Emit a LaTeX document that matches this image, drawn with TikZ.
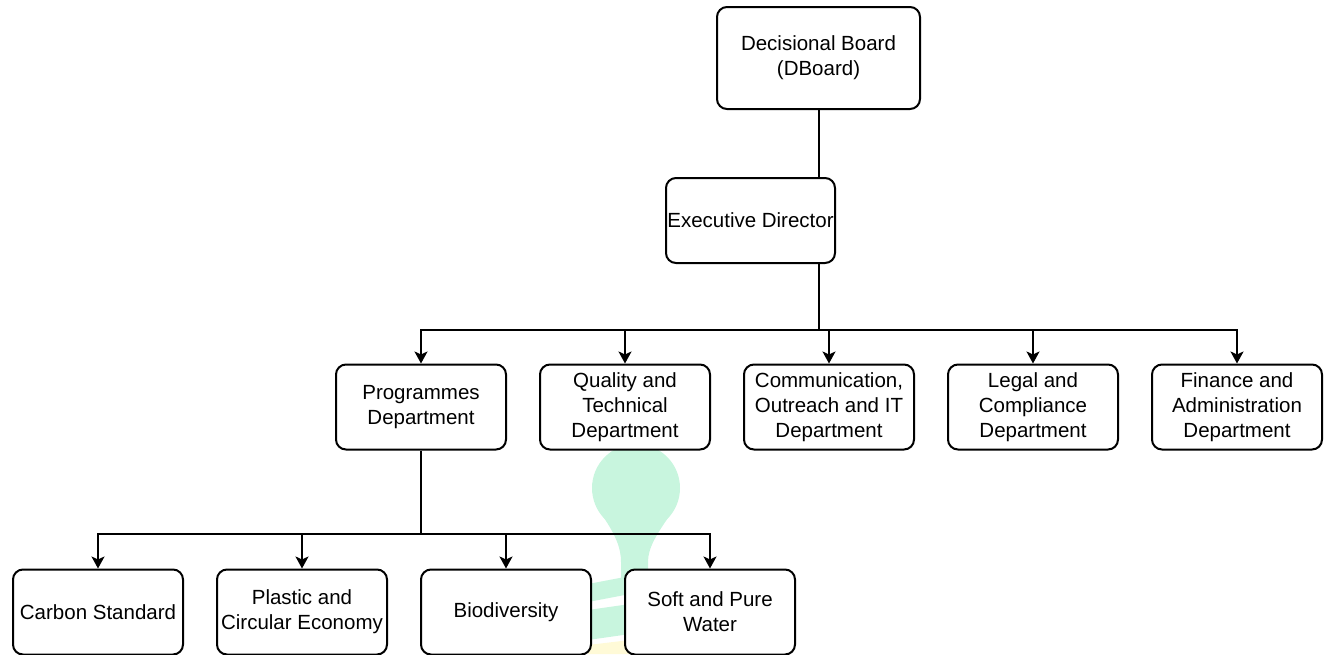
\documentclass[tikz,border=0pt]{standalone}
\usepackage{fontspec}
\setmainfont{Liberation Sans}
\usetikzlibrary{arrows.meta}
\definecolor{wmgreen}{RGB}{200,245,222}
\definecolor{wmyellow}{RGB}{255,250,215}

\begin{document}
\begin{tikzpicture}[x=1pt,y=-1pt,>={Stealth[length=12pt,width=13pt,inset=3pt]},node distance=204pt,
		line width=2pt, wm/.style={fill=wmgreen},
		box/.style={draw,fill=white,rounded corners=10pt,minimum width=170pt,minimum height=85pt,inner sep=1pt,align=center,font=\fontsize{20.5}{25}\selectfont}]
		\useasboundingbox (0,0) rectangle (1327,654);
		% 背景水印
		\fill[wm] (636,488) circle (44);
		\fill[wm] (600,512) .. controls (616,535) and (621,548) .. (621,562) -- (621,580) -- (648,580) -- (648,562) .. controls (648,548) and (656,535) .. (672,512) -- cycle;
		\fill[wm] (588,584) -- (630,576) -- (630,594) -- (588,602) -- cycle;
		\fill[wm] (588,610) -- (630,604) -- (630,634) -- (588,640) -- cycle;
		\fill[wmyellow] (588,645) -- (630,640) -- (630,654) -- (588,654) -- cycle;
		% 领导
		\node[box,minimum width=203pt,minimum height=102pt] (dboard) at (818.5,58) {Decisional Board\\(DBoard)};
		\node[box,minimum width=169pt] (exec) at (750.5,220.5) {Executive Director};
		% 部门
		\node[box] (prog) at (421,407) {Programmes\\Department};
		\node[box] (qual) [right of=prog] {Quality and\\Technical\\Department};
		\node[box] (comm) [right of=qual] {Communication,\\Outreach and IT\\Department};
		\node[box] (legal) [right of=comm] {Legal and\\Compliance\\Department};
		\node[box] (fin) [right of=legal] {Finance and\\Administration\\Department};
		% 项目
		\node[box] (carbon) at (98,612) {Carbon Standard};
		\node[box] (plastic) [right of=carbon] {Plastic and\\Circular Economy};
		\node[box] (bio) [right of=plastic] {Biodiversity};
		\node[box] (water) [right of=bio] {Soft and Pure\\Water};
		\coordinate (split) at (818.5,330);
		\coordinate (split2) at (421,534);
		\draw (dboard.south) -- (dboard.south |- exec.north);
		\draw (dboard.south |- exec.south) -- (split);
		\foreach \n in {prog,qual,comm,legal,fin}
			\draw[->] (split) -| (\n.north);
		\draw (prog.south) -- (split2);
		\foreach \n in {carbon,plastic,bio,water}
			\draw[->] (split2) -| (\n.north);
\end{tikzpicture}
\end{document}
